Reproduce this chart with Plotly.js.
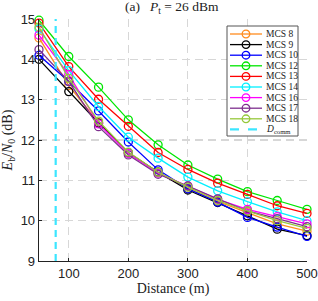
<!DOCTYPE html>
<html>
<head>
<meta charset="utf-8">
<script src="https://cdn.plot.ly/plotly-3.0.1.min.js"></script>
<style>html,body{margin:0;padding:0;background:#fff;}#chart{width:318px;height:301px;}</style>
</head>
<body>
<div id="chart"></div>
<script>
const distance = [50, 100, 150, 200, 250, 300, 350, 400, 450, 500];
const mcs8  = [14.53, 13.35, 12.43, 11.68, 11.20, 10.80, 10.48, 10.20, 9.92, 9.74];
const mcs9  = [14.00, 13.20, 12.42, 11.68, 11.20, 10.76, 10.45, 10.12, 9.79, 9.63];
const mcs10 = [14.10, 13.45, 12.72, 11.95, 11.26, 10.79, 10.46, 10.08, 9.84, 9.61];
const mcs12 = [14.97, 14.07, 13.31, 12.50, 11.88, 11.38, 11.03, 10.72, 10.50, 10.28];
const mcs13 = [14.90, 13.82, 13.01, 12.34, 11.69, 11.27, 10.93, 10.65, 10.37, 10.18];
const mcs14 = [14.75, 13.72, 12.83, 12.07, 11.55, 11.08, 10.74, 10.47, 10.22, 10.00];
const mcs16 = [14.60, 13.62, 12.40, 11.67, 11.18, 10.86, 10.53, 10.28, 10.10, 9.92];
const mcs17 = [14.24, 13.45, 12.33, 11.63, 11.15, 10.86, 10.54, 10.24, 10.05, 9.85];
const mcs18 = [14.80, 13.53, 12.47, 11.70, 11.20, 10.83, 10.50, 10.24, 10.00, 9.81];
const dComm = 78;
const yRange = [9, 15];
const xTicks = [100, 200, 300, 400, 500];

const seriesNames = ['MCS 8','MCS 9','MCS 10','MCS 12','MCS 13','MCS 14','MCS 16','MCS 17','MCS 18'];
const seriesValues = [mcs8, mcs9, mcs10, mcs12, mcs13, mcs14, mcs16, mcs17, mcs18];
const colors = ['rgb(255,140,30)','rgb(0,0,0)','rgb(0,0,255)','rgb(0,230,0)','rgb(255,0,0)','rgb(0,240,255)','rgb(255,0,255)','rgb(126,47,142)','rgb(150,200,60)'];
const dCommColor = 'rgb(60,230,255)';
const dCommName = '<i>D</i><sub>comm</sub>';

const traces = seriesNames.map((n, i) => ({
  x: distance, y: seriesValues[i], name: n, type: 'scatter', mode: 'lines+markers',
  line: {color: colors[i], width: 1.3},
  marker: {symbol: 'circle-open', size: 8, color: colors[i], line: {width: 1.3}},
  cliponaxis: false, showlegend: false
}));
traces.push({
  x: [dComm, dComm], y: yRange, name: dCommName, type: 'scatter', mode: 'lines',
  line: {color: dCommColor, width: 2.2, dash: '7px,5px'}, showlegend: false
});

// Manual compact legend (pixel positions converted to paper coords)
const L = 39, W = 268, B = 261, H = 242;
const px = v => (v - L) / W;
const py = v => (B - v) / H;
const shapes = [{
  type: 'rect', xref: 'paper', yref: 'paper', layer: 'above',
  x0: px(227), x1: px(298), y0: py(136), y1: py(26),
  fillcolor: '#fff', line: {color: '#555', width: 1}
}];
const annotations = [];
const legNames = seriesNames.concat([dCommName]);
const legColors = colors.concat([dCommColor]);
legNames.forEach((n, i) => {
  const yc = py(34 + 10.6 * i);
  const isD = i === legNames.length - 1;
  shapes.push({
    type: 'line', xref: 'paper', yref: 'paper', layer: 'above',
    x0: px(230), x1: px(262), y0: yc, y1: yc,
    line: {color: legColors[i], width: isD ? 2.2 : 1.3, dash: isD ? 'dash' : 'solid'}
  });
  if (!isD) {
    shapes.push({
      type: 'circle', xref: 'paper', yref: 'paper', layer: 'above',
      xsizemode: 'pixel', ysizemode: 'pixel', xanchor: px(246), yanchor: yc,
      x0: -3.8, x1: 3.8, y0: -3.8, y1: 3.8,
      fillcolor: 'rgba(0,0,0,0)', line: {color: legColors[i], width: 1.3}
    });
  }
  annotations.push({
    xref: 'paper', yref: 'paper', x: px(264), y: yc, xanchor: 'left', yanchor: 'middle',
    text: n, showarrow: false, font: {family: 'Liberation Serif, DejaVu Serif, serif', size: 9.5, color: '#222'}
  });
});

const serif = 'Liberation Serif, DejaVu Serif, serif';
const sans = 'Liberation Sans, Arial, sans-serif';
const layout = {
  width: 318, height: 301,
  margin: {l: 39, r: 11, t: 19, b: 40},
  paper_bgcolor: '#fff', plot_bgcolor: '#fff',
  showlegend: false,
  title: {text: '(a)&nbsp;&nbsp;&nbsp;<i>P</i><sub>t</sub>&nbsp;=&nbsp;26&nbsp;dBm', font: {family: serif, size: 13.5, color: '#222'}, x: 0.54, xref: 'container', xanchor: 'center', y: 0.995, yanchor: 'top'},
  xaxis: {
    range: [50, 500], tickvals: xTicks, ticktext: xTicks.map(String),
    showgrid: true, gridcolor: 'rgb(215,215,215)', griddash: '8px,5px', gridwidth: 1.2,
    zeroline: false, showline: true, linecolor: '#222', linewidth: 1.3,
    ticks: 'inside', ticklen: 3, tickcolor: '#222',
    tickfont: {family: sans, size: 13, color: '#222'},
    title: {text: 'Distance (m)', font: {family: serif, size: 14, color: '#222'}, standoff: 2}
  },
  yaxis: {
    range: yRange, dtick: 1, tick0: 9,
    showgrid: true, gridcolor: 'rgb(215,215,215)', griddash: '8px,5px', gridwidth: 1.2,
    zeroline: false, showline: true, linecolor: '#222', linewidth: 1.3,
    ticks: 'inside', ticklen: 3, tickcolor: '#222',
    tickfont: {family: sans, size: 13, color: '#222'},
    title: {text: '<i>E</i><sub>b</sub>/<i>N</i><sub>0</sub> (dB)', font: {family: serif, size: 14, color: '#222'}, standoff: 4}
  },
  shapes: shapes,
  annotations: annotations
};
Plotly.newPlot('chart', traces, layout, {displayModeBar: false, staticPlot: true});
</script>
</body>
</html>
